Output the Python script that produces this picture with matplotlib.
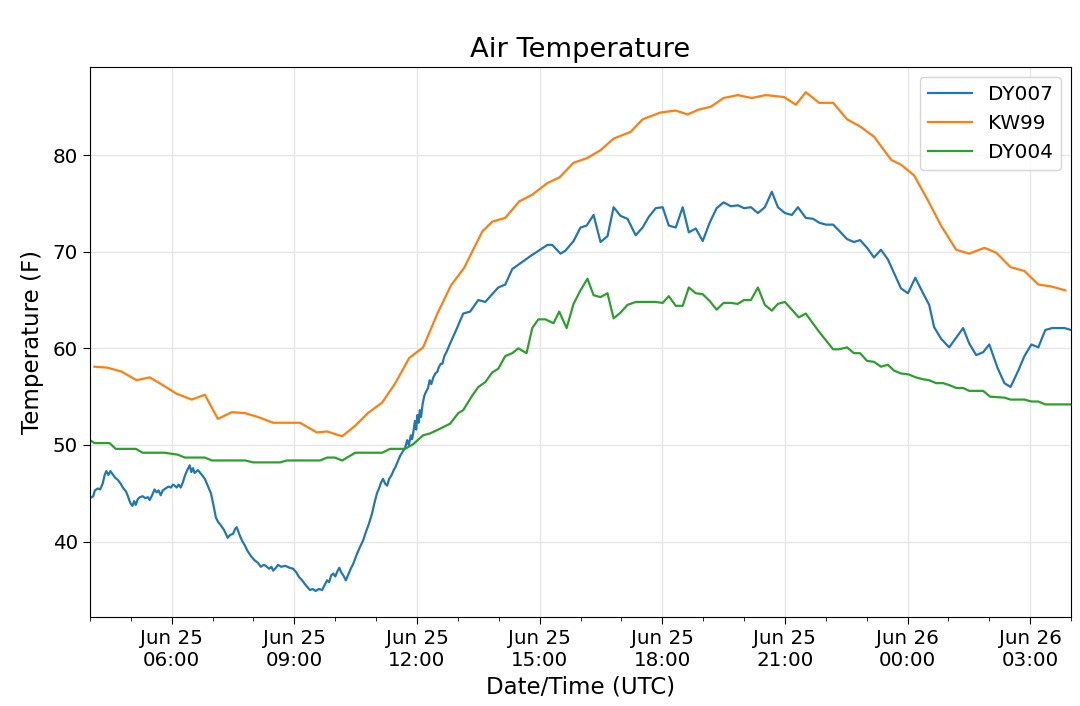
import matplotlib
matplotlib.use("Agg")
import matplotlib.pyplot as plt
import matplotlib.dates as mdates
import numpy as np
import pandas as pd

# hours after 2019-06-25 00:00 UTC, temperatures in F
day0 = pd.Timestamp("2019-06-25 00:00")

dy007_h = [4.0, 4.08, 4.12, 4.19, 4.25, 4.31, 4.36, 4.4, 4.45, 4.5, 4.55, 4.62, 4.68, 4.75, 4.82,
           4.88, 4.92, 4.97, 5.0, 5.04, 5.08, 5.12, 5.17, 5.22, 5.29, 5.35, 5.42, 5.46, 5.52, 5.58,
           5.63, 5.68, 5.73, 5.78, 5.85, 5.92, 5.98, 6.03, 6.07, 6.12, 6.17, 6.22, 6.27, 6.32, 6.38,
           6.44, 6.48, 6.52, 6.56, 6.64, 6.72, 6.81, 6.88, 6.96, 7.02, 7.08, 7.14, 7.2, 7.28, 7.37,
           7.43, 7.5, 7.55, 7.59, 7.65, 7.72, 7.79, 7.86, 7.94, 8.02, 8.11, 8.18, 8.25, 8.3, 8.38,
           8.44, 8.48, 8.55, 8.6, 8.68, 8.78, 8.88, 8.97, 9.05, 9.12, 9.19, 9.26, 9.32, 9.38, 9.45,
           9.52, 9.6, 9.68, 9.74, 9.8, 9.85, 9.9, 9.95, 10.0, 10.05, 10.1, 10.15, 10.2, 10.26, 10.32,
           10.38, 10.44, 10.52, 10.6, 10.68, 10.75, 10.82, 10.9, 10.96, 11.02, 11.08, 11.12, 11.17,
           11.22, 11.27, 11.32, 11.38, 11.43, 11.47, 11.53, 11.59, 11.65, 11.71, 11.76, 11.8, 11.85,
           11.88, 11.91, 11.95, 11.98, 12.01, 12.04, 12.07, 12.1, 12.14, 12.18, 12.22, 12.27, 12.31,
           12.35, 12.4, 12.45, 12.5, 12.53, 12.58, 12.62, 12.67, 12.72, 12.81, 12.97, 13.13, 13.3,
           13.5, 13.67, 13.99, 14.16, 14.33, 14.76, 15.19, 15.31, 15.51, 15.63, 15.83, 16.0, 16.15,
           16.32, 16.49, 16.66, 16.81, 16.98, 17.15, 17.35, 17.52, 17.67, 17.84, 18.01, 18.16, 18.33,
           18.5, 18.65, 18.82, 18.99, 19.16, 19.33, 19.5, 19.68, 19.85, 20.0, 20.17, 20.34, 20.51,
           20.68, 20.83, 21.0, 21.17, 21.32, 21.51, 21.69, 21.84, 22.0, 22.18, 22.32, 22.52, 22.69,
           22.84, 23.01, 23.18, 23.35, 23.52, 23.67, 23.84, 24.01, 24.19, 24.38, 24.53, 24.65, 24.82,
           25.02, 25.19, 25.36, 25.51, 25.68, 25.85, 26.0, 26.2, 26.37, 26.52, 26.71, 26.86, 27.03,
           27.2, 27.37, 27.54, 27.84, 28.0]
dy007_t = [44.5, 44.7, 45.3, 45.5, 45.4, 46.0, 46.9, 47.3, 46.9, 47.3, 47.0, 46.6, 46.4, 46.0, 45.5,
           45.2, 44.8, 44.2, 43.9, 43.7, 44.2, 43.8, 44.4, 44.6, 44.7, 44.5, 44.6, 44.3, 44.8, 45.4,
           45.1, 45.3, 44.8, 45.3, 45.5, 45.7, 45.6, 45.9, 45.8, 45.6, 45.9, 45.6, 46.1, 46.8, 47.4,
           47.9, 47.2, 47.6, 47.1, 47.4, 47.0, 46.5, 45.8, 45.0, 43.8, 42.5, 42.0, 41.7, 41.2, 40.4,
           40.7, 40.8, 41.3, 41.5, 40.8, 40.1, 39.6, 39.0, 38.5, 38.1, 37.8, 37.4, 37.6, 37.5, 37.2,
           37.4, 37.0, 37.3, 37.6, 37.4, 37.5, 37.3, 37.2, 36.8, 36.3, 36.0, 35.6, 35.3, 35.0, 35.1,
           34.9, 35.1, 35.0, 35.5, 36.0, 35.8, 36.5, 36.7, 36.4, 36.9, 37.3, 36.8, 36.5, 36.0, 36.6,
           37.2, 37.7, 38.6, 39.4, 40.1, 41.0, 41.8, 42.9, 44.0, 45.0, 45.6, 46.1, 46.5,
           46.0, 45.8, 46.5, 46.9, 47.4, 47.7, 48.3, 48.9, 49.3, 49.7, 50.5, 50.0, 51.0,
           50.6, 51.3, 52.5, 51.6, 53.1, 52.3, 53.6, 52.9, 54.3, 55.1, 55.5, 55.9, 56.7,
           56.3, 57.0, 57.4, 57.6, 58.0, 58.4, 58.4, 59.2, 59.6, 60.5, 62.0, 63.6, 63.8,
           65.0, 64.8, 66.3, 66.6, 68.2, 69.5, 70.7, 70.7, 69.8, 70.1, 71.1, 72.5, 72.7,
           73.8, 71.0, 71.6, 74.6, 73.7, 73.4, 71.7, 72.5, 73.6, 74.5, 74.6, 72.7, 72.5,
           74.6, 72.0, 72.4, 71.1, 73.0, 74.5, 75.1, 74.7, 74.8, 74.5, 74.6, 74.0, 74.6,
           76.2, 74.6, 74.0, 73.8, 74.6, 73.5, 73.4, 73.0, 72.8, 72.8, 72.2, 71.3, 71.0,
           71.2, 70.4, 69.4, 70.2, 69.2, 67.8, 66.2, 65.7, 67.3, 65.7, 64.5, 62.2, 61.0,
           60.1, 61.1, 62.1, 60.5, 59.3, 59.6, 60.4, 58.0, 56.4, 56.0, 57.7, 59.2, 60.4,
           60.1, 61.9, 62.1, 62.1, 61.9]

kw99_h = [4.11, 4.43, 4.77, 5.14, 5.46, 5.78, 6.12, 6.49, 6.81, 7.13, 7.47, 7.79, 8.11, 8.48, 8.82,
          9.14, 9.55, 9.8, 10.17, 10.49, 10.8, 11.15, 11.47, 11.81, 12.15, 12.5, 12.83, 13.15, 13.6,
          13.84, 14.16, 14.5, 14.82, 15.19, 15.49, 15.83, 16.17, 16.49, 16.81, 17.23, 17.52, 17.96,
          18.33, 18.62, 18.89, 19.19, 19.5, 19.85, 20.19, 20.53, 20.98, 21.27, 21.51, 21.84, 22.18,
          22.52, 22.86, 23.18, 23.6, 23.84, 24.16, 24.5, 24.82, 25.19, 25.51, 25.88, 26.17, 26.52,
          26.86, 27.2, 27.52, 27.86]
kw99_t = [58.1, 58.0, 57.6, 56.7, 57.0, 56.2, 55.3, 54.7, 55.2, 52.7, 53.4, 53.3, 52.9, 52.3, 52.3,
          52.3, 51.3, 51.4, 50.9, 52.0, 53.3, 54.4, 56.4, 59.0, 60.1, 63.6, 66.5, 68.3, 72.1,
          73.1, 73.5, 75.2, 75.9, 77.1, 77.7, 79.2, 79.7, 80.5, 81.7, 82.4, 83.7, 84.4,
          84.6, 84.2, 84.7, 85.0, 85.9, 86.2, 85.9, 86.2, 86.0, 85.2, 86.5, 85.4, 85.4,
          83.7, 82.9, 81.9, 79.5, 79.0, 77.9, 75.3, 72.7, 70.2, 69.8, 70.4, 69.9, 68.4,
          68.0, 66.6, 66.4, 66.0]

dy004_h = [4.0, 4.11, 4.48, 4.63, 5.12, 5.29, 5.83, 5.98, 6.15, 6.32, 6.81, 6.98, 7.8, 7.99, 8.65,
           8.82, 9.63, 9.8, 9.99, 10.17, 10.49, 11.15, 11.34, 11.71, 11.91, 12.15, 12.32, 12.57,
           12.81, 13.01, 13.13, 13.35, 13.5, 13.67, 13.84, 13.99, 14.16, 14.33, 14.48, 14.68, 14.82,
           14.97, 15.14, 15.34, 15.48, 15.66, 15.83, 16.0, 16.17, 16.32, 16.49, 16.66, 16.81, 16.98,
           17.15, 17.35, 17.84, 18.01, 18.16, 18.33, 18.5, 18.65, 18.82, 18.99, 19.16, 19.33, 19.5,
           19.68, 19.85, 20.0, 20.17, 20.34, 20.51, 20.68, 20.83, 21.0, 21.17, 21.34, 21.51, 21.84,
           22.18, 22.32, 22.52, 22.69, 22.84, 23.01, 23.18, 23.35, 23.52, 23.67, 23.84, 24.03, 24.2,
           24.38, 24.53, 24.7, 24.87, 25.02, 25.19, 25.36, 25.51, 25.85, 26.02, 26.37, 26.52, 26.86,
           27.03, 27.2, 27.37, 28.0]
dy004_t = [50.5, 50.2, 50.2, 49.6, 49.6, 49.2, 49.2, 49.1, 49.0, 48.7, 48.7, 48.4, 48.4, 48.2, 48.2,
           48.4, 48.4, 48.7, 48.7, 48.4, 49.2, 49.2, 49.6, 49.6, 50.1, 51.0, 51.2, 51.7,
           52.2, 53.3, 53.6, 55.1, 56.0, 56.5, 57.5, 57.9, 59.2, 59.5, 60.0, 59.5, 62.1,
           63.0, 63.0, 62.6, 63.8, 62.1, 64.6, 66.0, 67.2, 65.5, 65.3, 65.7, 63.1, 63.7,
           64.5, 64.8, 64.8, 64.7, 65.4, 64.4, 64.4, 66.3, 65.7, 65.6, 64.9, 64.0, 64.7,
           64.7, 64.6, 65.0, 65.0, 66.3, 64.5, 63.9, 64.6, 64.8, 64.0, 63.2, 63.6, 61.7,
           59.9, 59.9, 60.1, 59.5, 59.5, 58.7, 58.6, 58.1, 58.3, 57.7, 57.4, 57.3, 57.0,
           56.8, 56.7, 56.4, 56.4, 56.2, 55.9, 55.9, 55.6, 55.6, 55.0, 54.9, 54.7, 54.7,
           54.5, 54.5, 54.2, 54.2]


def to_times(hours):
    return day0 + pd.to_timedelta(np.array(hours), unit="h")


def main():
    fig = plt.figure(figsize=(10.8, 7.06), dpi=100)
    ax = fig.add_axes([0.0833, 0.126, 0.9084, 0.779])

    ax.plot(to_times(dy007_h), dy007_t, color="tab:blue", linewidth=1.6, label="DY007")
    ax.plot(to_times(kw99_h), kw99_t, color="tab:orange", linewidth=1.6, label="KW99")
    ax.plot(to_times(dy004_h), dy004_t, color="tab:green", linewidth=1.6, label="DY004")

    ax.set_xlim(to_times([4.0])[0], to_times([28.0])[0])
    ax.set_ylim(32.2, 89.1)
    ax.set_yticks([40, 50, 60, 70, 80])

    ax.xaxis.set_major_locator(mdates.HourLocator(byhour=[0, 3, 6, 9, 12, 15, 18, 21]))
    ax.xaxis.set_minor_locator(mdates.HourLocator())
    ax.xaxis.set_major_formatter(mdates.DateFormatter("%b %d\n%H:%M"))
    ax.tick_params(axis="both", which="major", labelsize=14.3, length=5)
    ax.tick_params(axis="x", which="minor", length=3)
    for lbl in ax.get_xticklabels():
        lbl.set_ha("center")

    ax.grid(True, color="#e6e6e6", linewidth=1)
    ax.set_axisbelow(True)

    ax.set_title("Air Temperature", fontsize=19.7, pad=7)
    ax.set_xlabel("Date/Time (UTC)", fontsize=16.5, labelpad=4)
    ax.set_ylabel("Temperature (F)", fontsize=16.5, labelpad=6)
    ax.legend(loc="upper right", fontsize=14.4, handlelength=2.2)

    fig.savefig("out.png", dpi=100)


if __name__ == "__main__":
    main()
